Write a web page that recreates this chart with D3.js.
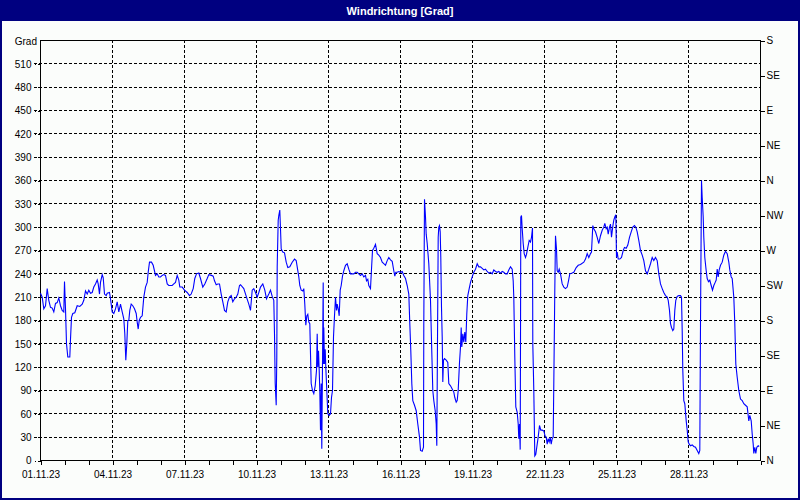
<!DOCTYPE html>
<html><head><meta charset="utf-8">
<script src="https://cdn.jsdelivr.net/npm/d3@7"></script>
<style>
body{margin:0;background:#fff}
svg{display:block}
text{font-family:"Liberation Sans",Arial,sans-serif}
</style>
</head><body><svg id="c" width="800" height="500"></svg>
<script>
const chartTitle = "Windrichtung [Grad]";
const unitLabel = "Grad";
const startDate = new Date(2023, 10, 1);
const endDate = new Date(2023, 11, 1);
const gradTicks = [0,30,60,90,120,150,180,210,240,270,300,330,360,390,420,450,480,510];
const compassTicks = [0,45,90,135,180,225,270,315,360,405,450,495,540];
const compassLabels = ["N","NE","E","SE","S","SW","W","NW","N","NE","E","SE","S"];
const labeledDays = [1,4,7,10,13,16,19,22,25,28];

// hours since 01.11.23 00:00
const hours = [
0,1.7,3.3,5,6.7,8.3,10,11.7,13.3,15,16.7,18.3,20,21.7,23.3,24,25,26,27.3,29.3,30,31,32.3,34.3,36.7,39.3,41.7,43.3,45,46.7,48.3,50,51.7,53.3,55,56.7,57.7,59,60,61.7,62.7,64,65.7,66.7,69,70,71.7,73.3,75,76.7,78.3,80,81.7,83.3,84.3,85.3,86.3,87.3,88.3,89.3,90.7,92.3,94,95.7,96.7,97.7,98.7,100,101.7,103.3,105,106.7,107.7,109,111,112.7,115,116.7,118.3,120,121.7,123.3,125,126.7,128.3,130,131.7,133.3,135,136.7,138.3,139.3,141.7,144,146.7,149,150.7,152.7,154.3,156,158.3,160,162.3,164.3,166.7,168.3,171,172.7,174,175.7,177.3,179,180.7,182.3,184,185.7,187.3,189,190.7,192.3,194,195.7,197.3,199,
200,203.3,206,208.3,210,211.7,213.3,215,216.7,218.3,220,222.3,224.3,226,228.3,230,231.7,233.3,234,234.7,235.7,236.3,236.7,237.7,238.3,239.3,240,240.7,242.3,244,245.7,247.3,249.3,251.7,254,255.7,256.7,258.3,259.3,260.7,262.3,263.3,264.3,265.3,266.3,267.3,268.3,269.3,270,270.7,272,273.3,274.7,276,276.7,277.3,278,278.7,279.3,280,280.7,281.3,282,282.7,283,283.3,284,284.7,285.3,286.3,287.3,288.7,290,291,292,293,294,295,296,296.7,297.7,298.7,299.7,300.7,302,303.3,305,306.7,308.3,310,311.7,313.3,315,316.7,318.3,320,321.7,323.3,325,326,327.3,328.3,330,331,332,333.3,335,336.7,338.3,340,341.7,343.3,345,346.7,348.3,350,351.7,353.3,354.3,355.3,356.7,358.3,360,361.7,363.3,365,366.7,368.3,369.3,370.3,371.3,372.3,374,375.7,377.3,379,380,381.7,383,383.3,384,385,385.7,386.7,388.3,390,391,392.3,393.3,394.7,395.7,396.3,397,397.7,398.3,399,399.7,400.3,401,401.7,402.3,403,404,405.7,407.3,408.3,410,411.7,413.3,414.3,415.7,416.7,417.7,419,420,420.7,421.3,422.3,423.3,424.3,425.3,426.3,427.3,428.7,430,431.7,433.3,435,436.7,438.3,
440,441.7,443.3,445,446.7,448.3,450,451.7,453.3,455,456.7,458.3,460,461.7,463.3,465,466.7,468.3,470,471.7,472.7,473.3,474.3,475.3,476.7,477.7,478.3,479,479.7,480,480.3,481,481.7,482.7,483.7,485,486,487.3,488.7,490,491,492,492.3,493.3,494.3,495.3,496.7,497.7,499,500.3,501.7,503.3,504.7,505.7,506.7,507.7,508.7,509.7,510.7,511.7,512.7,513.3,514.3,515,516,516.7,517.7,518.7,520,521.7,523.3,525,526.7,528,529.3,531.7,533.3,535.7,537.7,540,543.3,545,546.7,548.3,550,551,552.3,553.3,555,556.7,558.3,560,561.7,563.3,564.3,565.7,566.7,567.7,569,570,571,572.3,573.3,574.3,575.3,576,576.7,577.7,579.3,581,582.7,584,585.7,587.3,589,590.7,592.3,594,595.3,596.7,598.3,600,601.7,603.3,605,606.7,608.3,610,611.7,613.3,615,616.7,618.3,620,621.7,623.3,625,626.7,627.7,629,630,631,632.3,633.3,634.3,635.3,636.7,638.3,640,641,641.7,642.3,643.3,644.3,645.7,646.7,647.7,648.7,650,651.7,653.3,655,656.7,658.3,659.3,660,661,661.7,662.7,663.3,664.3,665.7,666.7,668,669.3,670.7,672,673.3,674.7,675.7,676.7,677.7,678.7,680,681.7,683.3,685,686.7,688.3,689.3,690.7,691.7,693.3,694.3,695.3,696.7,698.3,700,701.7,703.3,705,706.7,708.3,709.3,710.7,711.7,712.7,713.3,714.3,715.3,716.3,717.7,718.7
];
const degrees = [
215,210,195,199,221,206,197,196,191,202,203,209,199,193,191,230,195,150,133,133,156,184,189,190,199,198,201,206,218,214,219,215,216,223,227,232,227,214,229,239,235,214,212,215,216,208,191,189,195,204,191,201,191,182,163,129,150,180,180,193,201,199,195,189,178,169,180,184,186,210,223,229,242,255,255,251,238,240,236,236,238,239,238,227,225,225,225,227,229,238,232,223,223,219,216,212,214,221,234,240,241,234,223,227,234,239,238,237,231,226,227,227,214,204,193,191,204,210,212,204,208,210,214,225,
226,221,210,201,193,219,221,216,210,216,223,227,219,208,214,219,211,206,163,99,71,133,249,309,315,322,298,272,268,267,255,248,249,255,259,257,249,236,225,219,218,221,201,174,186,188,178,176,137,99,90,86,96,116,163,120,141,116,90,39,99,15,124,229,124,171,124,143,120,90,60,58,60,81,90,159,186,210,193,201,195,186,219,225,237,244,251,253,246,240,240,240,242,242,240,238,240,236,238,231,233,225,221,246,270,273,278,266,264,261,255,253,251,257,261,258,256,244,237,242,242,243,242,243,238,234,225,214,176,141,99,77,71,64,47,30,13,12,17,176,336,313,291,279,253,206,154,90,77,64,47,19,154,287,300,302,294,261,197,159,101,129,131,129,126,99,96,92,88,81,75,77,90,126,146,171,146,163,152,165,152,189,212,221,229,236,242,246,253,249,
249,247,245,246,243,241,242,240,245,243,242,243,241,243,242,240,240,245,249,246,231,210,133,69,62,47,28,47,14,150,313,315,298,279,266,261,265,274,283,281,287,299,150,90,6,8,21,30,45,39,39,38,31,30,21,28,24,30,21,28,30,99,219,289,272,244,242,246,240,227,223,221,223,231,240,241,242,248,251,252,255,259,266,261,266,268,302,298,294,287,279,289,296,300,305,298,300,291,300,304,287,301,309,313,316,261,268,259,259,261,270,274,273,277,287,294,300,302,300,294,283,270,264,257,244,240,246,253,261,257,261,257,240,227,221,216,212,210,206,193,176,171,167,169,193,206,211,212,212,210,167,116,77,73,51,39,24,21,19,20,18,17,13,9,13,176,360,338,313,287,261,244,234,230,232,225,219,225,229,232,246,236,245,251,255,264,269,266,255,245,236,234,210,176,124,107,90,79,77,73,71,69,51,58,51,34,21,9,17,9,17,19,18
];

const W = 800, H = 500;
const L = 40, R = 760, T = 40, B = 460;
const bg = "#fbfdfb", navy = "#000080";

const svg = d3.select("#c");
svg.append("rect").attr("width", W).attr("height", H).attr("fill", bg);
svg.append("rect").attr("x", 0).attr("y", 0).attr("width", W).attr("height", 21).attr("fill", navy);
svg.append("text").attr("x", W/2).attr("y", 14.5).attr("text-anchor", "middle")
  .attr("fill", "#fff").attr("font-size", "11px").attr("font-weight", "bold").text(chartTitle);
svg.append("rect").attr("x", 1).attr("y", 1).attr("width", W-2).attr("height", H-2)
  .attr("fill", "none").attr("stroke", navy).attr("stroke-width", 2);

const x = d3.scaleTime().domain([startDate, endDate]).range([L + 0.5, R + 0.5]);
const y = d3.scaleLinear().domain([0, 540]).range([B + 0.5, T + 0.5]);

const grid = svg.append("g").attr("stroke", "#000").attr("stroke-dasharray", "3,2").attr("shape-rendering", "crispEdges");
grid.selectAll("line.h").data(gradTicks.filter(d => d > 0)).join("line")
  .attr("x1", L - 6).attr("x2", R).attr("y1", d => y(d)).attr("y2", d => y(d));
const vDays = labeledDays.filter(d => d > 1).map(d => new Date(2023, 10, d));
grid.selectAll("line.v").data(vDays).join("line")
  .attr("x1", d => x(d)).attr("x2", d => x(d)).attr("y1", T).attr("y2", B);

// frame
svg.append("rect").attr("x", L + 0.5).attr("y", T + 0.5).attr("width", R - L).attr("height", B - T)
  .attr("fill", "none").attr("stroke", "#000").attr("shape-rendering", "crispEdges");

const fontSize = "10px";
const gl = svg.append("g").attr("transform", `translate(${L + 0.5},0)`)
  .call(d3.axisLeft(y).tickValues(gradTicks).tickSize(6).tickPadding(3));
gl.select(".domain").remove();
gl.selectAll(".tick line").attr("stroke-dasharray", "3,2").attr("shape-rendering", "crispEdges");
gl.selectAll("text").attr("font-size", fontSize).attr("fill", "#000");
gl.attr("font-family", null);

svg.append("text").attr("x", L - 3).attr("y", y(540) + 4).attr("text-anchor", "end")
  .attr("font-size", fontSize).attr("fill", "#000").text(unitLabel);

const gr = svg.append("g").attr("transform", `translate(${R + 0.5},0)`)
  .call(d3.axisRight(y).tickValues(compassTicks).tickSize(4).tickPadding(2).tickFormat((d, i) => compassLabels[i]));
gr.select(".domain").remove();
gr.selectAll(".tick line").attr("shape-rendering", "crispEdges");
gr.selectAll("text").attr("font-size", fontSize).attr("fill", "#000");
gr.attr("font-family", null);

const fmt = d3.timeFormat("%d.%m.%y");
const gb = svg.append("g").attr("transform", `translate(0,${B + 0.5})`)
  .call(d3.axisBottom(x).ticks(d3.timeDay.every(1)).tickSize(4).tickPadding(6)
    .tickFormat(d => (d.getMonth() === 10 && labeledDays.includes(d.getDate())) ? fmt(d) : ""));
gb.select(".domain").remove();
gb.selectAll(".tick line").attr("shape-rendering", "crispEdges");
gb.selectAll("text").attr("font-size", fontSize).attr("fill", "#000");
gb.attr("font-family", null);

const pts = hours.map((h, i) => [new Date(startDate.getTime() + h * 3600000), degrees[i]]);
svg.append("path").datum(pts)
  .attr("fill", "none").attr("stroke", "#0000ff").attr("stroke-width", 1.1)
  .attr("d", d3.line().x(d => x(d[0])).y(d => y(d[1])));
</script>
</body></html>
